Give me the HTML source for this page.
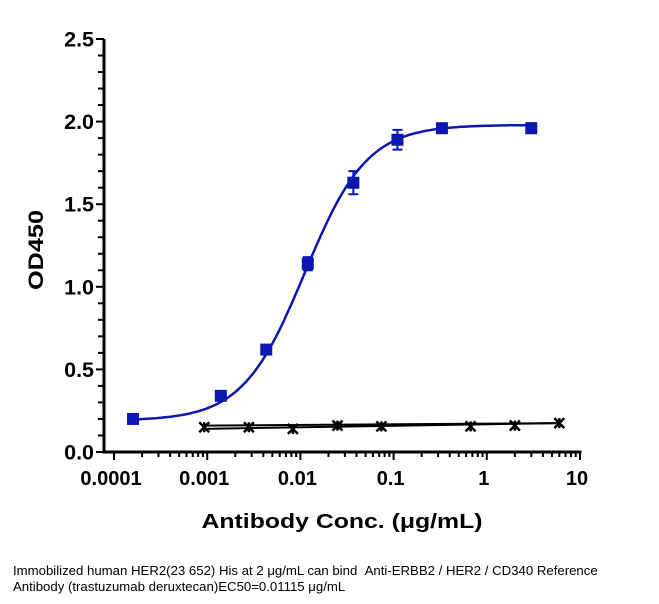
<!DOCTYPE html>
<html><head><meta charset="utf-8"><style>
body{margin:0;background:#fff;width:659px;height:604px;overflow:hidden;font-family:"Liberation Sans",Arial,sans-serif}
#cap{position:absolute;left:13px;top:563px;font-size:13.2px;line-height:16px;color:#000;width:598px}
</style></head><body>
<svg id="chart" width="659" height="560" style="position:absolute;left:0;top:0" xmlns="http://www.w3.org/2000/svg"></svg>
<div id="cap">Immobilized human HER2(23 652) His at 2 μg/mL can bind &nbsp;Anti-ERBB2 / HER2 / CD340 Reference Antibody (trastuzumab deruxtecan)EC50=0.01115 μg/mL</div>
<script>
const xTicks=[0.0001,0.001,0.01,0.1,1,10];
const xTickLabels=["0.0001","0.001","0.01","0.1","1","10"];
const yTicks=[0,0.5,1,1.5,2,2.5];
const yTickLabels=["0.0","0.5","1.0","1.5","2.0","2.5"];
const blueX=[0.00016,0.0014,0.0043,0.012,0.037,0.11,0.33,3];
const blueY=[0.20,0.34,0.62,1.14,1.63,1.89,1.96,1.96];
const blueErr=[0,0,0,0.04,0.07,0.06,0.02,0.03];
const blackX=[0.00093,0.0028,0.0083,0.025,0.074,0.67,2,6];
const blackY=[0.15,0.15,0.14,0.16,0.155,0.155,0.16,0.175];
const fitBottom=0.19, fitTop=1.98, fitEC50=0.01115, fitHill=1.3;
const line1=[0.16,0.175], line2=[0.14,0.175];

const svg=document.getElementById('chart');
const NS='http://www.w3.org/2000/svg';
const X0=114,PD=93.2,Y0=452,PU=165.2;
const xs=v=>X0+(Math.log10(v)+4)*PD;
const ys=v=>Y0-v*PU;
function mk(t,a,name){const e=document.createElementNS(NS,t);for(const k in a)e.setAttribute(k,a[k]);


svg.appendChild(e);return e;}
mk('line',{x1:104,y1:ys(2.5),x2:104,y2:Y0+1.5,stroke:'#000','stroke-width':3},'y-axis');
mk('line',{x1:102.5,y1:Y0,x2:xs(10)+1.5,y2:Y0,stroke:'#000','stroke-width':3},'x-axis');
for(let i=0;i<=25;i++){const v=i/10,maj=i%5==0;
 mk('line',{x1:maj?96:98,y1:ys(v),x2:104,y2:ys(v),stroke:'#000','stroke-width':2},'y-tick');}
yTicks.forEach((v,i)=>{const t=mk('text',{x:94,y:ys(v)+7.5,'text-anchor':'end','font-size':21.5,'font-weight':'bold'},'y-tick-label');t.textContent=yTickLabels[i];});
for(let d=-4;d<=1;d++){for(let m=1;m<=9;m++){const v=m*Math.pow(10,d);if(v>10)break;if(v<0.0001)continue;
 mk('line',{x1:xs(v),y1:Y0,x2:xs(v),y2:Y0+(m==1?8:5),stroke:'#000','stroke-width':2},'x-tick');}}
xTicks.forEach((v,i)=>{const t=mk('text',{x:xs(v)-3,y:485,'text-anchor':'middle','font-size':20,'font-weight':'bold'},'x-tick-label');t.textContent=xTickLabels[i];});
let t=mk('text',{x:342,y:528,'text-anchor':'middle','font-size':20,'font-weight':'bold',textLength:281,lengthAdjust:'spacingAndGlyphs'},'x-axis-title');t.textContent='Antibody Conc. (μg/mL)';
t=mk('text',{x:0,y:0,'text-anchor':'middle','font-size':21,'font-weight':'bold',textLength:80,lengthAdjust:'spacingAndGlyphs',transform:'translate(43,250) rotate(-90)'},'y-axis-title');t.textContent='OD450';
[line1,line2].forEach((l,i)=>mk('line',{x1:xs(blackX[0]),y1:ys(l[0]),x2:xs(blackX[blackX.length-1]),y2:ys(l[1]),stroke:'#000','stroke-width':2},'control-fit-line-'+(i+1)));
blackX.forEach((x,i)=>{const cx=xs(x),cy=ys(blackY[i]),r=5;
 mk('path',{d:`M${cx-r} ${cy-r}L${cx+r} ${cy+r}M${cx-r} ${cy+r}L${cx+r} ${cy-r}M${cx} ${cy-r}L${cx} ${cy+r}`,stroke:'#000','stroke-width':2.5,fill:'none'},'control-point');});
let d='';const a=Math.log10(blueX[0]),b=Math.log10(blueX[blueX.length-1]);
for(let i=0;i<=200;i++){const lx=a+(b-a)*i/200,x=Math.pow(10,lx);
 const y=fitBottom+(fitTop-fitBottom)/(1+Math.pow(fitEC50/x,fitHill));d+=(i?'L':'M')+xs(x).toFixed(1)+' '+ys(y).toFixed(1);}
mk('path',{d,stroke:'#0b17b0','stroke-width':2.5,fill:'none'},'her2-fit-curve');
blueX.forEach((x,i)=>{const cx=xs(x),cy=ys(blueY[i]);
 if(blueErr[i]>0){const t1=ys(blueY[i]+blueErr[i]),b1=ys(blueY[i]-blueErr[i]);
  mk('path',{d:`M${cx} ${t1}L${cx} ${b1}M${cx-5} ${t1}L${cx+5} ${t1}M${cx-5} ${b1}L${cx+5} ${b1}`,stroke:'#0b17b0','stroke-width':2,fill:'none'},'error-bar');}
 mk('rect',{x:cx-6,y:cy-6,width:12,height:12,fill:'#0b17b0'},'her2-point');});
</script>
</body></html>
